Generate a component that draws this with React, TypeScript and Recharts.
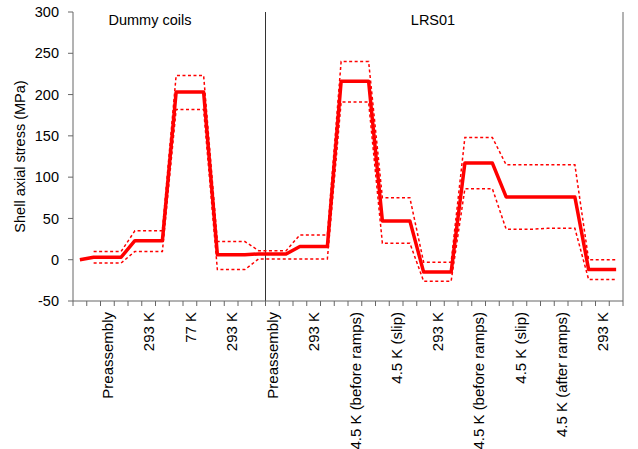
import React from 'react';
import { LineChart, Line, XAxis, YAxis, ReferenceLine } from 'recharts';

// one entry per measurement stage (each stage covers 3 categories on the x axis)
const stageLabels = [
    'Preassembly',
    '293 K',
    '77 K',
    '293 K',
    'Preassembly',
    '293 K',
    '4.5 K (before ramps)',
    '4.5 K (slip)',
    '293 K',
    '4.5 K (before ramps)',
    '4.5 K (slip)',
    '4.5 K (after ramps)',
    '293 K',
];
const stressMean = [3, 23, 203, 6, 7, 16, 216, 47, -15, 117, 76, 76, -12];
const stressUpper = [10, 35, 223, 22, 11, 30, 240, 75, -3, 148, 115, 115, 0];
const stressLower = [-4, 10, 182, -12, 1, 1, 191, 20, -26, 86, 37, 38, -24];
const startStress = 0;

const yTicks = [-50, 0, 50, 100, 150, 200, 250, 300];

const CATS_PER_STAGE = 3;
const CATEGORY_COUNT = 1 + stageLabels.length * CATS_PER_STAGE; // 40
const DIVIDER_AT = 14; // boundary between dummy coils and LRS01

const FONT = '"Liberation Sans", Arial, sans-serif';
const AXIS = '#666666';
const RED = '#ff0000';

type Row = { x: number; mean: number; upper: number | null; lower: number | null };

// x = category centre; each stage is a plateau from its first to its last category
const data: Row[] = [{ x: 0.5, mean: startStress, upper: null, lower: null }];
stageLabels.forEach((_, k) => {
    const first = 1 + k * CATS_PER_STAGE;
    const last = first + CATS_PER_STAGE - 1;
    data.push({ x: first + 0.5, mean: stressMean[k], upper: stressUpper[k], lower: stressLower[k] });
    data.push({ x: last + 0.5, mean: stressMean[k], upper: stressUpper[k], lower: stressLower[k] });
});

// integer ticks = category boundaries (tick marks), x.5 ticks = stage labels
const boundaryTicks = Array.from({ length: CATEGORY_COUNT + 1 }, (_, i) => i);
const labelTicks = stageLabels.map((_, k) => 1 + k * CATS_PER_STAGE + 1.5);
const xTicks = [...boundaryTicks, ...labelTicks];

// eslint-disable-next-line @typescript-eslint/no-explicit-any
const CategoryTick = (props: any) => {
    const { x, y, payload } = props;
    const v = payload.value as number;
    if (Number.isInteger(v)) {
        return <line x1={x} x2={x} y1={y} y2={y + 5} stroke={AXIS} strokeWidth={1} />;
    }
    const idx = labelTicks.indexOf(v);
    const ty = y + 11;
    return (
        <text
            x={x}
            y={ty}
            dy="0.38em"
            transform={`rotate(-90 ${x} ${ty})`}
            textAnchor="end"
            fill="#000"
            style={{ fontSize: 15, fontFamily: FONT }}
        >
            {stageLabels[idx]}
        </text>
    );
};

const noteStyle: React.CSSProperties = {
    position: 'absolute',
    top: 12,
    fontSize: 14.5,
    fontFamily: FONT,
    color: '#000',
    transform: 'translateX(-50%)',
    whiteSpace: 'nowrap',
};

export default function App() {
    return (
        <div style={{ position: 'fixed', left: 0, top: 0, width: 638, height: 449, background: '#fff', overflow: 'hidden' }}>
            <LineChart
                width={638}
                height={449}
                data={data}
                margin={{ top: 12, right: 15, bottom: 0, left: 0 }}
            >
                <XAxis
                    dataKey="x"
                    type="number"
                    domain={[0, CATEGORY_COUNT]}
                    ticks={xTicks}
                    interval={0}
                    height={148}
                    tickLine={false}
                    tickSize={0}
                    tickMargin={0}
                    axisLine={{ stroke: AXIS }}
                    tick={<CategoryTick />}
                />
                <YAxis
                    type="number"
                    domain={[-50, 300]}
                    ticks={yTicks}
                    width={73}
                    tickSize={5}
                    tickMargin={9}
                    axisLine={{ stroke: AXIS }}
                    tickLine={{ stroke: AXIS }}
                    tick={{ fill: '#000', fontSize: 14.5, fontFamily: FONT }}
                    label={{
                        value: 'Shell axial stress (MPa)',
                        angle: -90,
                        position: 'insideLeft',
                        offset: 20,
                        style: { textAnchor: 'middle', fontSize: 14.5, fontFamily: FONT, fill: '#000' },
                    }}
                />
                <ReferenceLine x={DIVIDER_AT} stroke="#333333" strokeWidth={1} />
                <ReferenceLine x={CATEGORY_COUNT} stroke={AXIS} strokeWidth={1} />
                <Line
                    dataKey="upper"
                    stroke={RED}
                    strokeWidth={1.5}
                    strokeDasharray="3 2.5"
                    dot={false}
                    isAnimationActive={false}
                />
                <Line
                    dataKey="lower"
                    stroke={RED}
                    strokeWidth={1.5}
                    strokeDasharray="3 2.5"
                    dot={false}
                    isAnimationActive={false}
                />
                <Line
                    dataKey="mean"
                    stroke={RED}
                    strokeWidth={3.5}
                    strokeLinejoin="round"
                    dot={false}
                    isAnimationActive={false}
                />
            </LineChart>
            <div style={{ ...noteStyle, left: 150 }}>Dummy coils</div>
            <div style={{ ...noteStyle, left: 433 }}>LRS01</div>
        </div>
    );
}
